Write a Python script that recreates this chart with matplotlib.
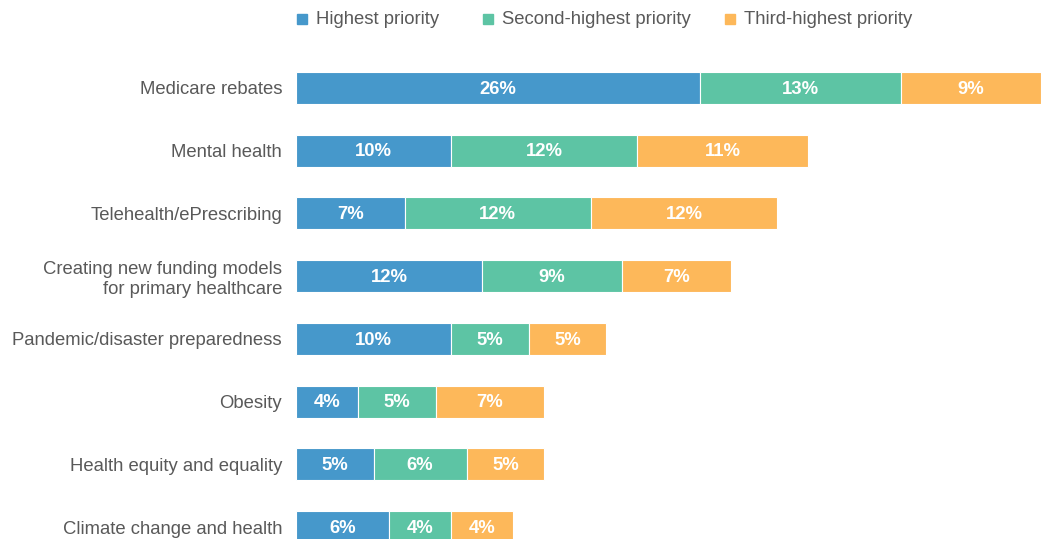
import matplotlib
matplotlib.use("Agg")
import matplotlib.pyplot as plt
from matplotlib.patches import Rectangle

categories = [
    "Medicare rebates",
    "Mental health",
    "Telehealth/ePrescribing",
    "Creating new funding models\nfor primary healthcare",
    "Pandemic/disaster preparedness",
    "Obesity",
    "Health equity and equality",
    "Climate change and health",
]
highest = [26, 10, 7, 12, 10, 4, 5, 6]
second = [13, 12, 12, 9, 5, 5, 6, 4]
third = [9, 11, 12, 7, 5, 7, 5, 4]

series_names = ["Highest priority", "Second-highest priority", "Third-highest priority"]
colors = ["#4698CB", "#5DC4A4", "#FDB85A"]
text_color = "#595959"

plt.rcParams["font.family"] = ["Liberation Sans", "DejaVu Sans"]

W, H = 1041, 539
fig = plt.figure(figsize=(W / 100, H / 100), dpi=100)
ax = fig.add_axes([296 / W, 0, 745 / W, (539 - 56) / H])

y = list(range(len(categories)))
left = [0] * len(categories)
for vals, col in zip([highest, second, third], colors):
    ax.barh(y, vals, left=left, height=0.51, color=col, edgecolor="white", linewidth=0.8)
    for yi, (l, v) in enumerate(zip(left, vals)):
        ax.text(l + v / 2, yi + 0.02, f"{v}%", ha="center", va="center",
                color="white", fontsize=13.3, fontweight="bold")
    left = [a + b for a, b in zip(left, vals)]

ax.set_xlim(0, 48)
ax.set_ylim(7.19, -0.51)
ax.set_yticks(y)
ax.set_yticklabels(categories, fontsize=13.3, color=text_color, linespacing=1.25)
ax.tick_params(axis="y", length=0, pad=10)
ax.set_xticks([])
for s in ax.spines.values():
    s.set_visible(False)
for lbl in ax.get_yticklabels():
    lbl.set_horizontalalignment("right")

# legend
leg_x = [297, 483, 725]
for x0, name, col in zip(leg_x, series_names, colors):
    fig.add_artist(Rectangle((x0 / W, 1 - 24 / H), 10 / W, 10 / H,
                             transform=fig.transFigure, color=col))
    fig.text((x0 + 19) / W, 1 - 20 / H, name, fontsize=13.3, color=text_color,
             ha="left", va="center")

fig.savefig("out.png", dpi=100)
